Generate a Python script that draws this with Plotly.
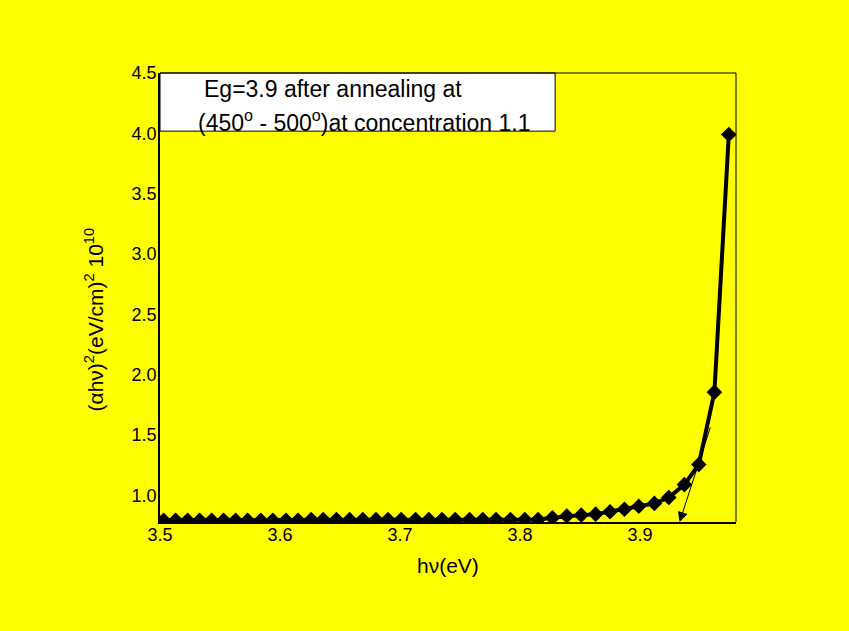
import plotly.graph_objects as go

# photon energy (eV)
hv = [3.503, 3.513, 3.523, 3.533, 3.543, 3.553, 3.563, 3.573, 3.584, 3.594,
      3.605, 3.615, 3.626, 3.636, 3.647, 3.658, 3.669, 3.680, 3.690, 3.701,
      3.713, 3.724, 3.735, 3.746, 3.758, 3.769, 3.780, 3.792, 3.804, 3.815,
      3.827, 3.839, 3.851, 3.863, 3.875, 3.887, 3.899, 3.912, 3.924, 3.937,
      3.949, 3.962, 3.974]
# (alpha h nu)^2 x 1e10
ahv2 = [0.795, 0.795, 0.795, 0.795, 0.795, 0.795, 0.795, 0.795, 0.795, 0.795,
        0.795, 0.795, 0.80, 0.80, 0.80, 0.80, 0.80, 0.80, 0.80, 0.80,
        0.80, 0.80, 0.80, 0.80, 0.80, 0.80, 0.80, 0.80, 0.80, 0.80,
        0.815, 0.83, 0.837, 0.845, 0.865, 0.886, 0.911, 0.934, 0.983, 1.09,
        1.257, 1.856, 3.99]

x_ticks = [3.5, 3.6, 3.7, 3.8, 3.9]
y_ticks = [1.0, 1.5, 2.0, 2.5, 3.0, 3.5, 4.0, 4.5]

# tangent (extrapolation) arrow: start and tip
tan_start = (3.959, 1.575)
tan_tip = (3.933, 0.78)

FONT = "Liberation Sans, Arial, sans-serif"
YEL = "#FFFF00"

fig = go.Figure()
fig.add_trace(go.Scatter(
    x=hv, y=ahv2, mode="lines+markers",
    line=dict(color="black", width=4),
    marker=dict(symbol="diamond", size=12, color="black"),
    showlegend=False,
))

fig.add_annotation(
    x=tan_tip[0], y=tan_tip[1], ax=tan_start[0], ay=tan_start[1],
    xref="x", yref="y", axref="x", ayref="y",
    showarrow=True, arrowhead=2, arrowsize=2, arrowwidth=1, arrowcolor="black",
    text="",
)

# legend-like text box
fig.add_shape(type="rect", xref="paper", yref="paper",
              x0=0, x1=0.686, y0=0.8705, y1=1.0,
              fillcolor="white", line=dict(color="black", width=1))
fig.add_annotation(xref="paper", yref="paper", x=0.0729, y=0.964,
                   xanchor="left", yanchor="middle", showarrow=False,
                   text="Eg=3.9 after annealing at",
                   font=dict(family=FONT, size=23, color="black"))
fig.add_annotation(xref="paper", yref="paper", x=0.0625, y=0.893,
                   xanchor="left", yanchor="middle", showarrow=False,
                   text="(450<sup>o</sup> - 500<sup>o</sup>)at concentration 1.1",
                   font=dict(family=FONT, size=23, color="black"))

# frame top/right thin lines
fig.add_shape(type="line", xref="paper", yref="paper", x0=0, x1=1, y0=1, y1=1,
              line=dict(color="black", width=1))
fig.add_shape(type="line", xref="paper", yref="paper", x0=1, x1=1, y0=0, y1=1,
              line=dict(color="black", width=1))

# axis titles
fig.add_annotation(xref="paper", yref="paper", x=0.5, y=-0.096,
                   xanchor="center", yanchor="middle", showarrow=False,
                   text="h\u03bd(eV)", font=dict(family=FONT, size=21, color="black"))
fig.add_annotation(xref="paper", yref="paper", x=-0.1146, y=0.451,
                   xanchor="center", yanchor="middle", showarrow=False, textangle=-90,
                   text="(\u03b1h\u03bd)<sup>2</sup>(eV/cm)<sup>2</sup> 10<sup>10</sup>",
                   font=dict(family=FONT, size=21, color="black"))

fig.update_layout(
    width=849, height=631,
    margin=dict(l=160, r=113, t=73, b=109),
    paper_bgcolor=YEL, plot_bgcolor=YEL,
    font=dict(family=FONT, size=18, color="black"),
    xaxis=dict(range=[3.5, 3.98], tickvals=x_ticks, ticktext=[f"{v:.1f}" for v in x_ticks],
               showgrid=False, zeroline=False, showline=True, linecolor="black",
               linewidth=2, ticks="", tickfont=dict(size=18), ticklabelstandoff=-5),
    yaxis=dict(range=[0.78, 4.5], tickvals=y_ticks, ticktext=[f"{v:.1f}" for v in y_ticks],
               showgrid=False, zeroline=False, showline=True, linecolor="black",
               linewidth=1.5, ticks="", tickfont=dict(size=18), ticklabelstandoff=-2),
)

fig.write_html("out.html")
